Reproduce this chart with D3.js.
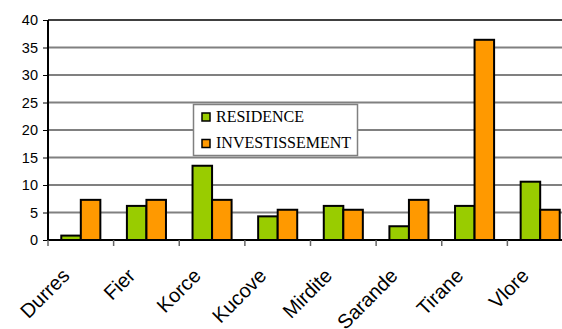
<!DOCTYPE html>
<html><head><meta charset="utf-8">
<script src="https://cdn.jsdelivr.net/npm/d3@7"></script>
<style>body{margin:0;background:#fff;}svg{display:block;}</style>
</head><body>
<svg id="c" width="562" height="329"></svg>
<script>
const categories = ["Durres","Fier","Korce","Kucove","Mirdite","Sarande","Tirane","Vlore"];
const residence = [0.8, 6.2, 13.5, 4.3, 6.2, 2.5, 6.2, 10.6];
const investissement = [7.3, 7.3, 7.3, 5.5, 5.5, 7.3, 36.4, 5.5];
const seriesNames = ["RESIDENCE","INVESTISSEMENT"];
const seriesColors = ["#99CC00","#FF9900"];
const yTicks = [0,5,10,15,20,25,30,35,40];

(function(){
const svg = d3.select("#c");
const pLeft = 48, pRight = 573, pTop = 20, pBottom = 240;
const x = d3.scaleBand().domain(categories).range([pLeft, pRight]).paddingInner(0).paddingOuter(0);
const xs = d3.scaleBand().domain(seriesNames).range([0, x.bandwidth()]).paddingInner(0).paddingOuter(0.68);
const y = d3.scaleLinear().domain([0,40]).range([pBottom, pTop]);

// gridlines
svg.append("g").selectAll("line").data(yTicks.filter(d=>d>0)).join("line")
  .attr("x1", pLeft).attr("x2", pRight)
  .attr("y1", d=>y(d)).attr("y2", d=>y(d))
  .attr("stroke", d=> d===40 ? "#404040" : "#808080").attr("stroke-width", 2);

// y axis
const yAxis = d3.axisLeft(y).tickValues(yTicks).tickSize(5).tickPadding(5);
const gy = svg.append("g").attr("transform", `translate(${pLeft},0)`).call(yAxis);
gy.select(".domain").attr("stroke","#000").attr("stroke-width",2).attr("d", `M0,${pTop}V${pBottom}`);
gy.selectAll(".tick line").attr("stroke","#000").attr("stroke-width",1);
gy.selectAll(".tick text").attr("font-family","Liberation Sans, Arial, sans-serif").attr("font-size",14.5).attr("fill","#000");

// bars
const data = categories.map((c,i)=>({c, vals:[residence[i], investissement[i]]}));
const groups = svg.append("g").selectAll("g").data(data).join("g")
  .attr("transform", d=>`translate(${x(d.c)},0)`);
groups.selectAll("rect").data(d=>d.vals.map((v,j)=>({v,j}))).join("rect")
  .attr("x", d=>xs(seriesNames[d.j]))
  .attr("width", xs.bandwidth())
  .attr("y", d=>y(d.v))
  .attr("height", d=>y(0)-y(d.v))
  .attr("fill", d=>seriesColors[d.j])
  .attr("stroke","#000").attr("stroke-width",2);

// x axis
const xAxis = d3.axisBottom(x).tickSize(0).tickFormat("");
const gx = svg.append("g").attr("transform", `translate(0,${pBottom})`).call(xAxis);
gx.select(".domain").attr("stroke","#000").attr("stroke-width",2).attr("d", `M${pLeft},0H${pRight}`);
svg.append("g").selectAll("line").data(categories).join("line")
  .attr("x1", d=>x(d)).attr("x2", d=>x(d))
  .attr("y1", pBottom).attr("y2", pBottom+6)
  .attr("stroke","#666").attr("stroke-width",1.5);

// x labels
svg.append("g").selectAll("text").data(categories).join("text")
  .attr("transform", d=>`translate(${x(d)+x.bandwidth()/2-10},277) rotate(-45)`)
  .attr("text-anchor","end")
  .attr("font-family","Liberation Sans, Arial, sans-serif")
  .attr("font-size",20).attr("fill","#000")
  .text(d=>d);

// legend
const lg = svg.append("g");
lg.append("rect").attr("x",193.5).attr("y",104.5).attr("width",164).attr("height",51)
  .attr("fill","#fff").attr("stroke","#808080").attr("stroke-width",1.5);
seriesNames.forEach((s,i)=>{
  const yy = 113 + i*26.5;
  lg.append("rect").attr("x",202).attr("y",yy).attr("width",8).attr("height",8)
    .attr("fill",seriesColors[i]).attr("stroke","#000").attr("stroke-width",1.5);
  lg.append("text").attr("x",216).attr("y",122 + i*26.3)
    .attr("font-family","Liberation Serif, Times New Roman, serif")
    .attr("font-size",16).attr("fill","#000").text(s);
});
})();
</script>
</body></html>
